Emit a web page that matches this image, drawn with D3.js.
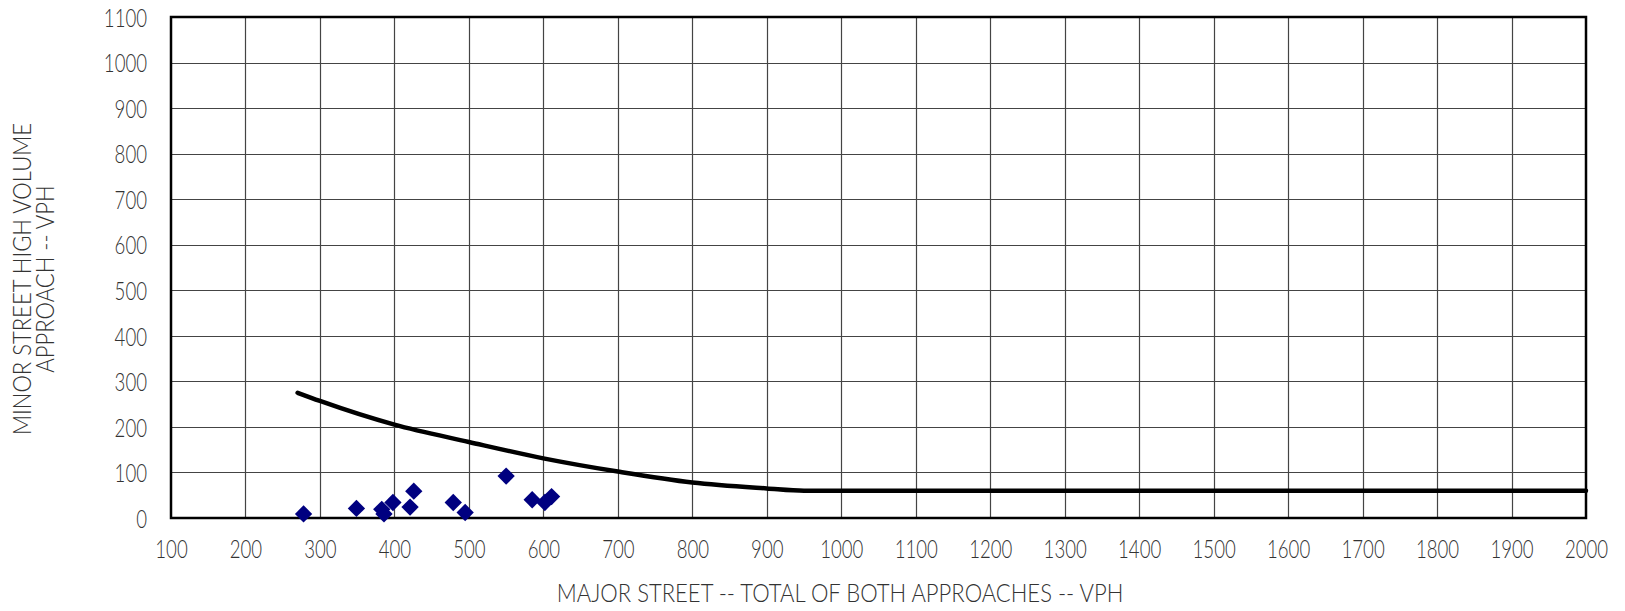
<!DOCTYPE html>
<html>
<head>
<meta charset="utf-8">
<script src="https://cdn.jsdelivr.net/npm/d3@7"></script>
<style>
  html, body { margin: 0; padding: 0; background: #fff; }
  svg { display: block; }
  text { font-family: Lato, "Open Sans", sans-serif; font-weight: 300; fill: #333; }
</style>
</head>
<body>
<svg id="chart" width="1625" height="611"></svg>
<script>
// ---- data ----
const xTicks = [100,200,300,400,500,600,700,800,900,1000,1100,1200,1300,1400,1500,1600,1700,1800,1900,2000];
const yTicks = [0,100,200,300,400,500,600,700,800,900,1000,1100];

// observed hourly volumes (major total, minor high approach)
const majorVolumes = [278, 349, 383, 386, 398, 426, 421, 479, 495, 550, 585, 602, 611];
const minorVolumes = [9, 21, 19, 9, 34, 59, 24, 34, 12, 92, 40, 34, 47];

// warrant threshold curve
const curveMajor = [270, 300, 400, 500, 600, 700, 800, 900, 950, 2000];
const curveMinor = [275, 257, 205, 167, 131, 102, 78, 65, 60, 60];

const xTitle = "MAJOR STREET -- TOTAL OF BOTH APPROACHES -- VPH";
const yTitleLines = ["MINOR STREET HIGH VOLUME", "APPROACH -- VPH"];

// ---- layout ----
const svg = d3.select("#chart");
const L = 171, R = 1586, T = 17, B = 518;
const SX = 0.73;    // horizontal squeeze for tick digits
const FS = 25.5;
const SXT = 0.9;    // squeeze for titles
const FST = 24.5;

const x = d3.scaleLinear().domain([100, 2000]).range([L, R]);
const y = d3.scaleLinear().domain([0, 1100]).range([B, T]);

// grid
const grid = svg.append("g");
grid.selectAll("line.v").data(xTicks.slice(1, -1)).join("line")
  .attr("x1", d => Math.round(x(d)) + 0.5).attr("x2", d => Math.round(x(d)) + 0.5)
  .attr("y1", T).attr("y2", B)
  .attr("stroke", "#444").attr("stroke-width", 1.2);
grid.selectAll("line.h").data(yTicks.slice(1, -1)).join("line")
  .attr("y1", d => Math.round(y(d)) + 0.5).attr("y2", d => Math.round(y(d)) + 0.5)
  .attr("x1", L).attr("x2", R)
  .attr("stroke", "#444").attr("stroke-width", 1.2);

// frame
svg.append("rect")
  .attr("x", L).attr("y", T).attr("width", R - L).attr("height", B - T)
  .attr("fill", "none").attr("stroke", "#000").attr("stroke-width", 2.5);

// axes labels via d3 axes
const xAxis = d3.axisBottom(x).tickValues(xTicks).tickSize(0).tickPadding(0).tickFormat(d3.format("d"));
const gx = svg.append("g").attr("transform", `translate(0,${B})`).call(xAxis);
gx.select(".domain").remove();
gx.selectAll("text")
  .attr("font-size", FS).attr("fill", "#333").attr("font-weight", 300)
  .attr("font-family", "Lato, sans-serif")
  .attr("x", 0).attr("y", 40.5).attr("dy", null)
  .attr("transform", `scale(${SX},1)`);

const yAxis = d3.axisLeft(y).tickValues(yTicks).tickSize(0).tickPadding(0).tickFormat(d3.format("d"));
const gy = svg.append("g").attr("transform", `translate(${L},0)`).call(yAxis);
gy.select(".domain").remove();
gy.selectAll("text")
  .attr("font-size", FS).attr("fill", "#333").attr("font-weight", 300)
  .attr("font-family", "Lato, sans-serif")
  .attr("x", -24 / SX).attr("dy", "0.36em")
  .attr("transform", `scale(${SX},1)`);

// threshold curve
const curveData = curveMajor.map((m, i) => [m, curveMinor[i]]);
svg.append("path")
  .datum(curveData)
  .attr("fill", "none").attr("stroke", "#000").attr("stroke-width", 4.5)
  .attr("stroke-linecap", "round")
  .attr("d", d3.line().x(d => x(d[0])).y(d => y(d[1])).curve(d3.curveMonotoneX));

// data points (diamonds)
const pts = majorVolumes.map((m, i) => [m, minorVolumes[i]]);
const diamond = d3.symbol().type(d3.symbolSquare).size(150);
svg.append("g").selectAll("path").data(pts).join("path")
  .attr("d", diamond)
  .attr("transform", d => `translate(${x(d[0])},${y(d[1])}) rotate(45)`)
  .attr("fill", "#000080");

// titles
svg.append("g").attr("transform", `translate(840,601.5) scale(${SXT},1)`)
  .append("text")
  .attr("x", 0).attr("y", 0)
  .attr("text-anchor", "middle").attr("font-size", FST)
  .text(xTitle);

const yt = svg.append("g").attr("transform", `translate(0,279) rotate(-90) scale(${SXT},1)`)
  .append("text")
  .attr("text-anchor", "middle").attr("font-size", FST);
yt.append("tspan").attr("x", 0).attr("y", 31.5).text(yTitleLines[0]);
yt.append("tspan").attr("x", 0).attr("y", 54).text(yTitleLines[1]);
</script>
</body>
</html>
